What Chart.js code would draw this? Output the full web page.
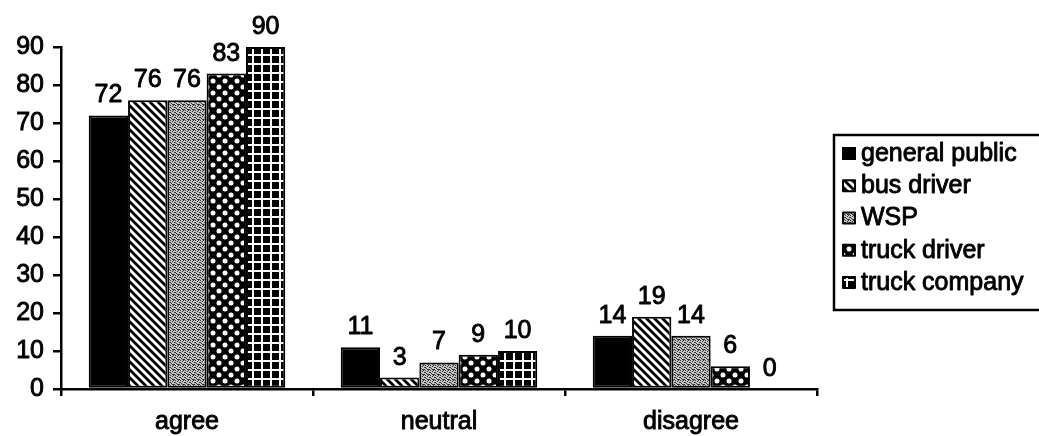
<!DOCTYPE html>
<html>
<head>
<meta charset="utf-8">
<script src="https://cdn.jsdelivr.net/npm/chart.js@4/dist/chart.umd.min.js"></script>
<style>
html,body{margin:0;padding:0;background:#fff;}
#wrap{width:1039px;height:436px;position:relative;}
</style>
</head>
<body>
<div id="wrap"><canvas id="c" width="1039" height="436"></canvas></div>
<script>
const categories = ["agree", "neutral", "disagree"];
const seriesNames = ["general public", "bus driver", "WSP", "truck driver", "truck company"];
const generalPublic = [72, 11, 14];
const busDriver = [76, 3, 19];
const wsp = [76, 7, 14];
const truckDriver = [83, 9, 6];
const truckCompany = [90, 10, 0];
const yTicks = [0, 10, 20, 30, 40, 50, 60, 70, 80, 90];

const FONT = "'Liberation Sans', Arial, sans-serif";
const FSIZE = 25;
const FWEIGHT = 'normal';
const STROKE = 0.9;

function tile(w, h, draw) {
  const c = document.createElement('canvas');
  c.width = w; c.height = h;
  const g = c.getContext('2d');
  draw(g, w, h);
  return document.getElementById('c').getContext('2d').createPattern(c, 'repeat');
}
const patSolid = '#000';
const patStripe = tile(8, 8, (g, w, h) => {
  g.fillStyle = '#fff'; g.fillRect(0, 0, w, h);
  g.strokeStyle = '#000'; g.lineWidth = 2.8;
  g.beginPath();
  g.moveTo(-2, -2); g.lineTo(w + 2, h + 2);
  g.moveTo(-2 - w, -2); g.lineTo(2, h + 2);
  g.moveTo(w - 2, -2); g.lineTo(2 * w + 2, h + 2);
  g.stroke();
});
const patStipple = tile(5, 5, (g, w, h) => {
  g.fillStyle = '#c4c4c4'; g.fillRect(0, 0, w, h);
  g.fillStyle = '#333';
  [[0,0],[2,1],[4,2],[1,3],[3,4],[3,0],[0,2],[2,4],[4,4]].forEach(p => g.fillRect(p[0], p[1], 1, 1));
});
const patDots = tile(12, 12, (g, w, h) => {
  g.fillStyle = '#000'; g.fillRect(0, 0, w, h);
  g.fillStyle = '#fff';
  [[3,3],[9,9]].forEach(p => { g.beginPath(); g.arc(p[0], p[1], 2.5, 0, Math.PI * 2); g.fill(); });
});
const patGrid = tile(9, 9, (g, w, h) => {
  g.fillStyle = '#000'; g.fillRect(0, 0, w, h);
  g.fillStyle = '#fff';
  g.fillRect(0, 0, w, 2); g.fillRect(0, 0, 2, h);
});
const fills = [patSolid, patStripe, patStipple, patDots, patGrid];
const values = [generalPublic, busDriver, wsp, truckDriver, truckCompany];

function heavyText(ctx, s, x, y) {
  ctx.strokeStyle = '#000';
  ctx.lineWidth = STROKE;
  ctx.lineJoin = 'round';
  ctx.strokeText(s, x, y);
  ctx.fillText(s, x, y);
}

const valueLabels = {
  id: 'valueLabels',
  afterDatasetsDraw(chart) {
    const ctx = chart.ctx;
    ctx.save();
    ctx.fillStyle = '#000';
    ctx.font = FWEIGHT + ' ' + FSIZE + 'px ' + FONT;
    ctx.textAlign = 'center';
    ctx.textBaseline = 'alphabetic';
    chart.data.datasets.forEach((ds, i) => {
      chart.getDatasetMeta(i).data.forEach((bar, j) => {
        heavyText(ctx, String(ds.data[j]), bar.x, bar.y - 13);
      });
    });
    ctx.restore();
  }
};

const boxLegend = {
  id: 'boxLegend',
  afterDraw(chart) {
    const ctx = chart.ctx;
    ctx.save();
    ctx.strokeStyle = '#000';
    ctx.lineWidth = 2.5;
    ctx.strokeRect(834, 135, 220, 175);
    ctx.font = FWEIGHT + ' ' + FSIZE + 'px ' + FONT;
    ctx.textBaseline = 'middle';
    ctx.textAlign = 'left';
    chart.data.datasets.forEach((ds, i) => {
      const cy = 153 + i * 32.25;
      ctx.fillStyle = ds.backgroundColor;
      ctx.fillRect(843, cy - 5, 12, 11);
      ctx.lineWidth = 2;
      ctx.strokeStyle = '#000';
      ctx.strokeRect(843, cy - 5, 12, 11);
      ctx.fillStyle = '#000';
      heavyText(ctx, ds.label, 861, cy + 1);
    });
    ctx.restore();
  }
};

const tickFont = { family: FONT, size: FSIZE, weight: FWEIGHT };

new Chart(document.getElementById('c'), {
  type: 'bar',
  data: {
    labels: categories,
    datasets: seriesNames.map((n, i) => ({
      label: n,
      data: values[i],
      backgroundColor: fills[i],
      borderColor: '#000',
      borderWidth: 2,
      borderSkipped: false,
      categoryPercentage: 0.78,
      barPercentage: 1.0
    }))
  },
  options: {
    responsive: false,
    animation: false,
    devicePixelRatio: 1,
    layout: { padding: { left: 0, right: 222, top: 47, bottom: 0 } },
    plugins: { legend: { display: false }, tooltip: { enabled: false } },
    scales: {
      x: {
        offset: true,
        grid: { offset: true, drawOnChartArea: false, tickLength: 7, color: '#000', lineWidth: 2.5 },
        border: { color: '#000', width: 2.5 },
        ticks: { color: '#000', font: tickFont, padding: 11, textStrokeColor: '#000', textStrokeWidth: STROKE },
        afterFit(s) { s.height = 47; }
      },
      y: {
        min: 0, max: 90,
        afterBuildTicks(s) { s.ticks = yTicks.map(v => ({ value: v })); },
        grid: { drawOnChartArea: false, tickLength: 8, color: '#000', lineWidth: 2.5 },
        border: { color: '#000', width: 2.5 },
        ticks: { color: '#000', font: tickFont, padding: 9, textStrokeColor: '#000', textStrokeWidth: STROKE },
        afterFit(s) { s.width = 61; }
      }
    }
  },
  plugins: [valueLabels, boxLegend]
});
</script>
</body>
</html>
